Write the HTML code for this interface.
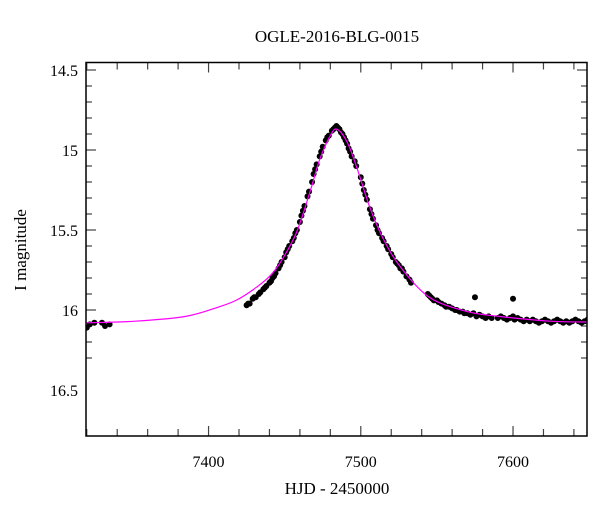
<!DOCTYPE html>
<html><head><meta charset="utf-8"><style>
body{margin:0;background:#fff}
svg{display:block}
text{font-family:"Liberation Serif",serif;fill:#000}
</style></head><body>
<svg id="c" width="600" height="512">
<text x="337" y="42" font-size="17" text-anchor="middle">OGLE-2016-BLG-0015</text>
<text x="337" y="494" font-size="17" text-anchor="middle">HJD - 2450000</text>
<text transform="translate(26,250) rotate(-90)" font-size="17" text-anchor="middle">I magnitude</text>
<g id="ticks"></g>
<g id="marks"></g>
<rect x="86" y="62.5" width="501" height="373.5" fill="none" stroke="#000" stroke-width="1.5"/>
</svg>
<script>
const xTicks=[7400,7500,7600];
const yTicks=[14.5,15,15.5,16,16.5];
const yTickLabels=["14.5","15","15.5","16","16.5"];
const modelT=[7319.5,7352,7385,7407,7418,7429,7440,7448,7458,7467,7473,7480,7484.3,7491,7497.4,7506,7514.5,7526,7545,7570,7591,7624,7648.6];
const modelM=[16.08,16.07,16.04,15.98,15.94,15.875,15.79,15.69,15.51,15.25,15.06,14.91,14.87,14.95,15.11,15.36,15.55,15.73,15.92,16.01,16.04,16.07,16.075];
const dataT=[7320,7322,7325,7330,7332,7335,7425,7426,7427,7429,7430,7431,7433,7434,7436,7437,7438,7440,7441,7442,7443,7444,7446,7447,7448,7450,7451,7452,7453,7455,7456,7457,7458,7460,7461,7462,7463,7465,7466,7468,7469,7470,7471,7473,7474,7475,7477,7478,7479,7481,7482,7483,7484,7485,7486,7487,7488,7489,7490,7491,7492,7493,7494,7496,7497,7500,7501,7502,7503,7504,7506,7507,7508,7510,7511,7512,7514,7515,7517,7518,7520,7521,7523,7524,7525,7526,7527,7528,7530,7532,7533,7544,7545,7546,7547,7548,7550,7551,7553,7555,7556,7558,7560,7562,7563,7565,7567,7568,7570,7572,7574,7576,7578,7580,7582,7584,7586,7590,7592,7594,7596,7598,7600,7601,7603,7605,7607,7609,7611,7613,7615,7617,7619,7621,7623,7625,7627,7629,7631,7633,7635,7637,7639,7641,7643,7645,7647,7649,7575,7600];
const dataM=[16.11,16.09,16.08,16.08,16.1,16.09,15.97,15.96,15.96,15.93,15.92,15.92,15.9,15.89,15.87,15.86,15.85,15.83,15.82,15.8,15.79,15.77,15.74,15.72,15.7,15.67,15.64,15.62,15.6,15.57,15.55,15.52,15.5,15.45,15.41,15.38,15.35,15.29,15.26,15.2,15.15,15.12,15.09,15.04,15.01,14.98,14.94,14.92,14.91,14.88,14.87,14.86,14.85,14.86,14.87,14.89,14.9,14.92,14.94,14.96,14.99,15.01,15.04,15.07,15.1,15.17,15.21,15.25,15.28,15.31,15.37,15.4,15.43,15.47,15.5,15.52,15.55,15.57,15.6,15.62,15.65,15.67,15.7,15.71,15.72,15.74,15.74,15.76,15.79,15.81,15.83,15.9,15.91,15.92,15.93,15.94,15.94,15.95,15.96,15.97,15.98,15.98,15.99,16.0,16.0,16.01,16.01,16.02,16.02,16.03,16.02,16.04,16.03,16.04,16.05,16.04,16.05,16.05,16.04,16.05,16.06,16.05,16.04,16.06,16.05,16.06,16.07,16.06,16.07,16.06,16.07,16.08,16.07,16.06,16.07,16.08,16.07,16.06,16.07,16.08,16.07,16.08,16.07,16.06,16.07,16.08,16.07,16.06,15.92,15.93];

const X0=86,X1=587,Y0=62.5,Y1=436;
const xMin=7319.5,xMax=7648.6;
const x=t=>X0+(t-xMin)/(xMax-xMin)*(X1-X0);
const y=m=>150+(m-15)*160;
const NS="http://www.w3.org/2000/svg";
const tk=document.getElementById('ticks'), mk=document.getElementById('marks');
function line(g,x1,y1,x2,y2,name){const l=document.createElementNS(NS,'line');
l.setAttribute('x1',x1);l.setAttribute('y1',y1);l.setAttribute('x2',x2);l.setAttribute('y2',y2);
l.setAttribute('stroke','#444');l.setAttribute('stroke-width','1.2');


g.appendChild(l);}
for(let t=7320;t<=7648;t+=20){const px=x(t);const maj=t%100===0;const L=maj?10:7;
line(tk,px,Y1,px,Y1-L,'x-tick');line(tk,px,Y0,px,Y0+L,'x-tick-top');}
xTicks.forEach(t=>{const e=document.createElementNS(NS,'text');e.setAttribute('x',x(t));e.setAttribute('y',467);
e.setAttribute('font-size','16');e.setAttribute('text-anchor','middle');e.textContent=t;


tk.appendChild(e);});
for(let i=5;i<=23;i++){const m=14+i*0.1;const py=y(m);if(py<Y0-0.5||py>Y1)continue;const maj=(i%5===0);const L=maj?10:6;
line(tk,X0,py,X0+L,py,'y-tick');line(tk,X1,py,X1-L,py,'y-tick-right');}
yTicks.forEach((m,i)=>{const e=document.createElementNS(NS,'text');e.setAttribute('x',78);e.setAttribute('y',y(m)+6);
e.setAttribute('font-size','16');e.setAttribute('text-anchor','end');e.textContent=yTickLabels[i];


tk.appendChild(e);});
const cp=document.createElementNS(NS,'clipPath');cp.setAttribute('id','clip');
const cr=document.createElementNS(NS,'rect');cr.setAttribute('x',X0);cr.setAttribute('y',Y0);cr.setAttribute('width',X1-X0);cr.setAttribute('height',Y1-Y0);
cp.appendChild(cr);document.getElementById('c').appendChild(cp);
mk.setAttribute('clip-path','url(#clip)');
for(let i=0;i<dataT.length;i++){const c=document.createElementNS(NS,'circle');
c.setAttribute('cx',x(dataT[i]));c.setAttribute('cy',y(dataM[i]));c.setAttribute('r',3);c.setAttribute('fill','#000');


mk.appendChild(c);}
const P=modelT.map((t,i)=>[x(t),y(modelM[i])]);
let d='M'+P[0][0]+','+P[0][1];
for(let i=0;i<P.length-1;i++){const p0=P[Math.max(i-1,0)],p1=P[i],p2=P[i+1],p3=P[Math.min(i+2,P.length-1)];
d+=' C'+(p1[0]+(p2[0]-p0[0])/6)+','+(p1[1]+(p2[1]-p0[1])/6)+' '+(p2[0]-(p3[0]-p1[0])/6)+','+(p2[1]-(p3[1]-p1[1])/6)+' '+p2[0]+','+p2[1];}
const path=document.createElementNS(NS,'path');path.setAttribute('d',d);path.setAttribute('fill','none');
path.setAttribute('stroke','#ff00ff');path.setAttribute('stroke-width','1.2');


mk.appendChild(path);
</script>
</body></html>
